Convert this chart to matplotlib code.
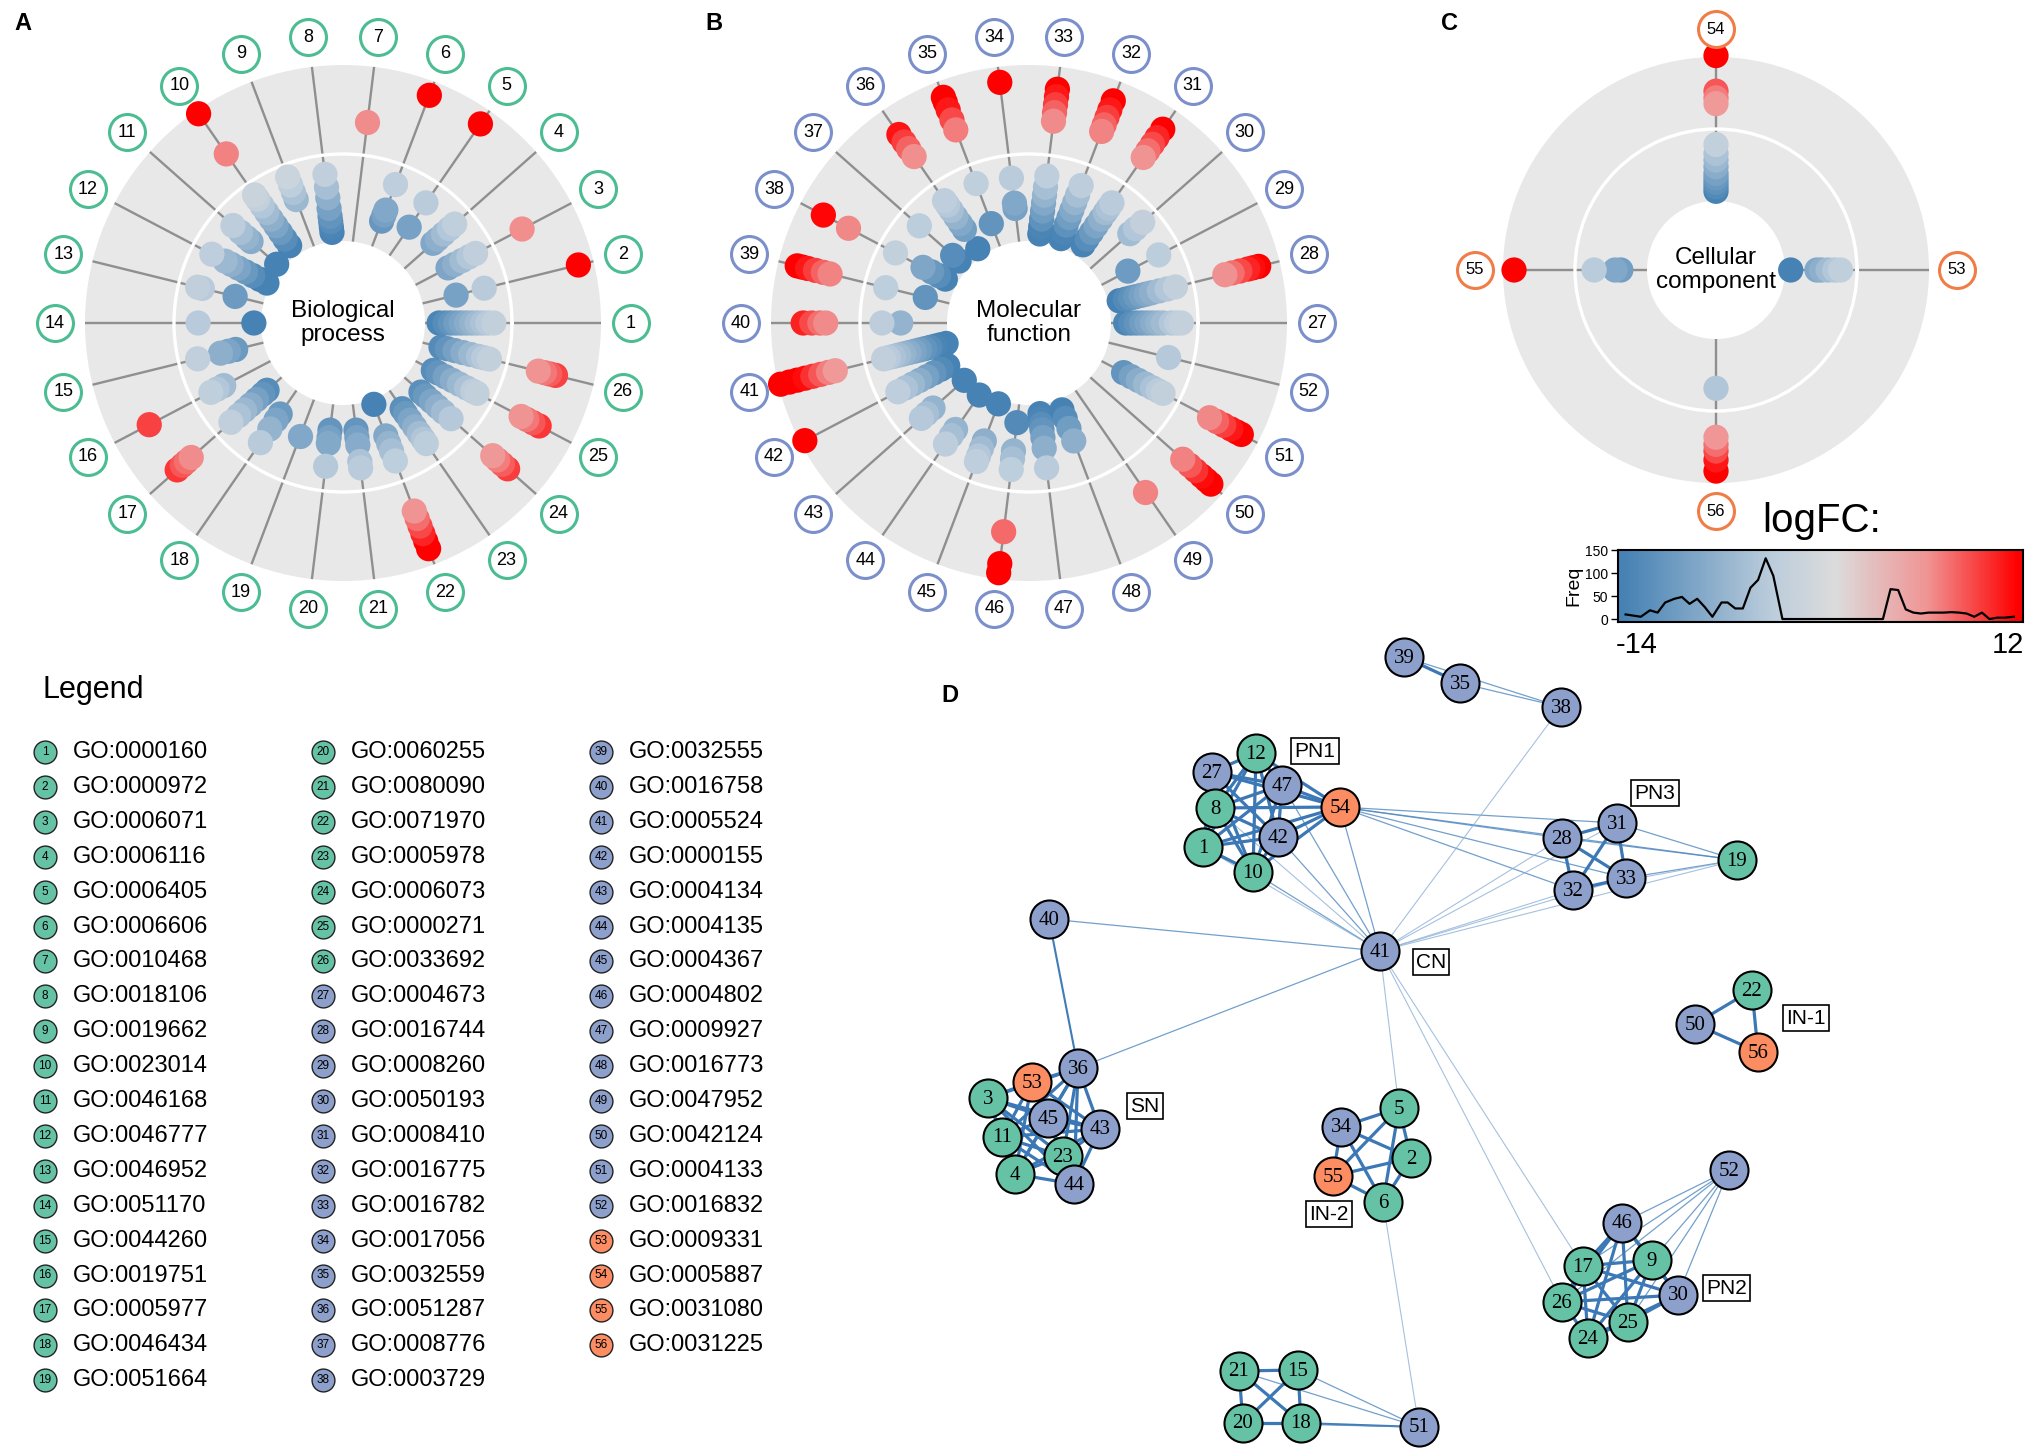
import numpy as np
import matplotlib.pyplot as plt
from matplotlib.colors import LinearSegmentedColormap, TwoSlopeNorm
from itertools import combinations

W, H = 2033, 1450
plt.rcParams['font.family'] = ['Liberation Sans', 'DejaVu Sans']

# logFC of the genes in each GO term, read off the circles
# panel A: terms 1-26 (biological process)
bp_logfc = [
    [-13.6, -12.5, -11.5, -10.5, -9.5, -8.5, -7.5, -6.5, -5.5, -4.5, -3.4],
    [-9.8, -4.4, 13.7],
    [-9.4, -8.0, -6.5, -5.0, -3.6, 6.2],
    [-9.1, -8.0, -6.5, -5.0, -3.7],
    [-9.8, -4.3, 13.6],
    [-11.2, -10.0, -9.0, -3.9, 13.9],
    [6.3],
    [-14.5, -13.5, -12.5, -11.5, -10.0, -8.0, -6.0, -3.6],
    [-6.9, -5.5, -4.0, -2.4],
    [-14.0, -12.5, -11.0, -9.5, -8.0, -6.5, -5.0, -3.5, -2.5, 6.8, 15.9],
    [-15.0, -8.6, -7.5, -6.0, -4.1],
    [-15.5, -14.0, -12.5, -11.0, -9.5, -8.0, -6.7, -3.9],
    [-10.8, -4.5, -3.6],
    [-14.9, -4.5],
    [-10.9, -9.5, -8.0, -3.6],
    [-6.4, -5.0, -3.7, 9.3],
    [-12.6, -11.5, -10.0, -8.5, -7.0, -5.5, -3.6, 6.3, 7.5, 8.5, 9.8],
    [-10.9, -9.5, -7.5, -4.4],
    [-9.0],
    [-11.4, -10.0, -8.9, -4.6],
    [-11.4, -10.0, -8.6, -5.5, -4.3],
    [-15.3, -9.0, -7.5, -6.0, -4.0, 6.0, 7.5, 9.0, 10.5, 12.0, 13.5],
    [-12.1, -11.0, -9.5, -8.0, -6.5, -5.2, -4.2],
    [-12.1, -11.0, -9.5, -8.0, -6.5, -4.6, 5.8, 7.0, 8.2, 9.5],
    [-12.5, -11.5, -10.0, -8.5, -7.0, -5.5, -4.2, -3.3, 6.0, 7.2, 8.5, 9.8],
    [-12.7, -11.5, -10.0, -8.5, -7.0, -5.5, -4.5, -3.4, 6.0, 7.2, 8.2, 9.3],
]
# panel B: terms 27-52 (molecular function)
mf_logfc = [
    [-13.5, -12.5, -11.5, -10.5, -9.5, -8.5, -7.5, -6.5, -5.0, -4.0, -3.1],
    [-14.2, -13.0, -12.0, -11.0, -10.0, -9.0, -8.0, -6.5, -5.0, -3.4, 6.1, 7.5, 9.0, 10.5, 11.5, 12.6],
    [-10.7, -4.2],
    [-6.4, -5.0, -3.2],
    [-13.8, -12.5, -11.0, -9.5, -8.0, -6.5, -5.5, -4.3, 6.0, 7.5, 9.0, 10.5, 12.4],
    [-14.7, -13.5, -12.0, -10.5, -9.0, -7.5, -6.0, -4.1, 6.7, 8.0, 9.5, 11.0, 12.8],
    [-14.8, -13.5, -12.0, -10.5, -9.0, -7.5, -6.0, -3.9, 6.4, 8.0, 9.5, 11.0, 12.4],
    [-10.0, -9.0, -4.3, 13.7],
    [-11.7, -3.7, 7.0, 9.0, 11.0, 12.5, 13.5],
    [-14.7, -10.3, -9.0, -7.5, -6.0, -4.8, -3.8, 6.2, 8.0, 9.5, 11.2],
    [-14.1, -12.5, -4.2],
    [-13.9, -12.5, -11.0, -9.2, -3.4, 6.5, 11.8],
    [-11.6, -4.0, 6.7, 8.0, 9.5, 11.0, 12.0, 13.0],
    [-7.6, -4.1, 6.4, 7.5, 9.0, 10.6],
    [-15.6, -14.5, -13.5, -12.5, -11.5, -10.5, -9.5, -8.5, -7.5, -6.5, -5.5, -4.5, -3.6,
     5.7, 7.0, 8.5, 10.0, 11.5, 13.0, 14.5, 16.2],
    [-14.4, -13.0, -11.5, -10.0, -8.5, -7.0, -5.5, -3.9, 15.7],
    [-15.4, -7.6, -6.0, -4.7],
    [-15.2, -7.4, -6.0, -4.1],
    [-15.4, -8.0, -6.5, -5.0, -3.9],
    [-12.8, -7.5, -6.0, -4.0, 7.7, 13.7, 15.4],
    [-14.5, -13.5, -12.5, -11.5, -10.0, -8.0, -4.3],
    [-14.2, -12.5, -10.5, -8.0],
    [6.7],
    [6.8, 8.5, 10.0, 11.5, 12.7, 13.8],
    [-11.6, -10.0, -8.5, -7.0, -5.5, -4.3, -3.3, 6.5, 8.0, 9.5, 11.0, 12.2, 13.2],
    [-4.8],
]
# panel C: terms 53-56 (cellular component)
cc_logfc = [
    [-14.9, -9.0, -8.0, -6.5, -5.0, -3.7],
    [-14.0, -13.0, -12.0, -11.0, -10.0, -8.5, -7.0, -5.5, -3.5, 5.7, 7.0, 8.5, 16.5],
    [-10.3, -9.0, -4.3, 13.7],
    [-5.1, 5.9, 7.5, 9.0, 11.0, 13.5],
]

go_ids = [
    'GO:0000160', 'GO:0000972', 'GO:0006071', 'GO:0006116', 'GO:0006405', 'GO:0006606',
    'GO:0010468', 'GO:0018106', 'GO:0019662', 'GO:0023014', 'GO:0046168', 'GO:0046777',
    'GO:0046952', 'GO:0051170', 'GO:0044260', 'GO:0019751', 'GO:0005977', 'GO:0046434',
    'GO:0051664', 'GO:0060255', 'GO:0080090', 'GO:0071970', 'GO:0005978', 'GO:0006073',
    'GO:0000271', 'GO:0033692', 'GO:0004673', 'GO:0016744', 'GO:0008260', 'GO:0050193',
    'GO:0008410', 'GO:0016775', 'GO:0016782', 'GO:0017056', 'GO:0032559', 'GO:0051287',
    'GO:0008776', 'GO:0003729', 'GO:0032555', 'GO:0016758', 'GO:0005524', 'GO:0000155',
    'GO:0004134', 'GO:0004135', 'GO:0004367', 'GO:0004802', 'GO:0009927', 'GO:0016773',
    'GO:0047952', 'GO:0042124', 'GO:0004133', 'GO:0016832', 'GO:0009331', 'GO:0005887',
    'GO:0031080', 'GO:0031225',
]
term_class = ['BP'] * 26 + ['MF'] * 26 + ['CC'] * 4

# logFC distribution shown under the colour bar
hist_logfc = [-13.8, -12.8, -12.2, -11.7, -11.2, -10.6, -10.1, -9.6, -9.1, -8.6, -8.1, -7.5,
              -7.1, -6.6, -6.1, -5.6, -5.1, -4.6, -4.1, -3.5, 3.1, 3.6, 4.1, 4.6, 5.1, 5.6,
              6.1, 6.6, 7.1, 7.6, 8.1, 8.6, 9.1, 9.6, 10.1, 10.6, 11.1, 11.7]
hist_freq = [10, 5, 19, 14, 36, 44, 48, 33, 44, 26, 5, 36, 36, 23, 23, 68, 85, 132, 94, 0,
             0, 65, 63, 21, 14, 12, 14, 14, 14, 15, 14, 12, 5, 14, 0, 3, 3, 5]
logfc_range = [-14, 12]

# network layout (D)
node_xy = {
    12: (1256, 753), 27: (1212, 772), 47: (1282, 785), 8: (1215, 808), 54: (1340, 807),
    42: (1278, 837), 1: (1203, 847), 10: (1253, 872), 40: (1049, 919), 41: (1380, 951),
    39: (1404, 657), 35: (1460, 683), 38: (1561, 707), 28: (1562, 838), 31: (1617, 823),
    19: (1737, 860), 33: (1626, 878), 32: (1573, 890), 22: (1752, 990), 50: (1695, 1024),
    56: (1758, 1052), 36: (1078, 1068), 53: (1032, 1082), 3: (988, 1098), 45: (1048, 1118),
    43: (1100, 1129), 11: (1002, 1137), 23: (1063, 1156), 4: (1015, 1174), 44: (1074, 1184),
    5: (1399, 1108), 34: (1341, 1127), 2: (1411, 1158), 55: (1333, 1176), 6: (1383, 1202),
    52: (1729, 1170), 46: (1622, 1223), 17: (1583, 1266), 9: (1652, 1260), 30: (1678, 1295),
    26: (1562, 1302), 25: (1628, 1322), 24: (1588, 1338), 21: (1239, 1371), 15: (1298, 1370),
    20: (1243, 1423), 18: (1301, 1423), 51: (1419, 1427),
}
clusters = {
    'PN1': [12, 27, 47, 8, 54, 42, 1, 10],
    'PN3': [28, 31, 33, 32],
    'SN': [3, 53, 36, 45, 43, 11, 23, 4, 44],
    'IN-2': [5, 34, 2, 55, 6],
    'IN-1': [22, 50, 56],
    'PN2': [46, 17, 9, 30, 26, 25, 24],
    'bottom': [21, 15, 20, 18],
}
cross_edges = [
    (39, 35, 'strong'), (39, 38, 'weak'), (35, 38, 'weak'),
    (54, 28, 'weak'), (54, 31, 'weak'), (54, 33, 'weak'), (54, 32, 'weak'), (54, 19, 'weak'),
    (41, 54, 'weak'), (41, 47, 'weak'), (41, 42, 'weak'), (41, 10, 'weak'), (41, 1, 'faint'),
    (41, 8, 'faint'), (41, 38, 'faint'), (41, 28, 'faint'), (41, 32, 'faint'), (41, 33, 'faint'),
    (41, 19, 'faint'), (41, 31, 'faint'), (41, 40, 'weak'), (41, 36, 'weak'), (40, 36, 'mid'),
    (41, 5, 'faint'), (6, 51, 'faint'), (41, 17, 'faint'), (41, 26, 'faint'),
    (19, 31, 'weak'), (19, 28, 'weak'), (19, 33, 'weak'), (19, 32, 'faint'),
    (52, 46, 'weak'), (52, 17, 'weak'), (52, 9, 'weak'), (52, 30, 'weak'), (52, 26, 'weak'),
    (52, 25, 'weak'),
    (51, 21, 'weak'), (51, 15, 'weak'), (51, 18, 'mid'), (51, 20, 'weak'),
]
cluster_tags = {
    'PN1': (1315, 751), 'PN3': (1655, 793), 'CN': (1431, 962), 'IN-1': (1806, 1018),
    'SN': (1145, 1106), 'IN-2': (1329, 1214), 'PN2': (1727, 1288),
}

class_fill = {'BP': '#66c2a5', 'MF': '#8da0cb', 'CC': '#fc8d62'}
class_ring = {'BP': '#4cbc92', 'MF': '#7b8fcb', 'CC': '#f07d48'}
edge_style = {
    'strong': dict(lw=2.3, color='#3b78b5', alpha=1.0),
    'mid': dict(lw=1.5, color='#3f7cb8', alpha=1.0),
    'weak': dict(lw=0.9, color='#4f88c0', alpha=0.8),
    'faint': dict(lw=0.8, color='#8fb2d6', alpha=0.8),
}

cmap = LinearSegmentedColormap.from_list(
    'logfc', [(0, '#4682b4'), (0.35, '#bccddc'), (0.5, '#dcdcdc'),
              (0.75, '#f09595'), (1, '#ff0000')])
norm = TwoSlopeNorm(vmin=-14, vcenter=0, vmax=12)


def px_box(x0, y0, w, h):
    return [x0 / W, 1 - (y0 + h) / H, w / W, h / H]


fig = plt.figure(figsize=(W / 100, H / 100), dpi=100)

# canvas in pixel units for legend, letters and network
cv = fig.add_axes([0, 0, 1, 1])
cv.set_xlim(0, W)
cv.set_ylim(H, 0)
cv.axis('off')


def go_circle(values, first_id, center, R, z, h, k, label_r, name, ring, lab_fs):
    cx, cy = center
    ax = fig.add_axes(px_box(cx - R, cy - R, 2 * R, 2 * R), projection='polar')
    ax.set_facecolor('#e8e8e8')
    ax.set_rorigin(-z / k)
    ax.set_ylim(-(z - h) / k, (R - z) / k)
    n = len(values)
    theta = np.arange(n) * 2 * np.pi / n
    ax.set_xticks(theta)
    ax.set_xticklabels([])
    ax.set_yticks([0])
    ax.set_yticklabels([])
    ax.xaxis.grid(True, color='#8f8f8f', lw=1.7)
    ax.yaxis.grid(True, color='white', lw=2.4)
    ax.tick_params(length=0)
    for s in ax.spines.values():
        s.set_linewidth(0)
        s.set_edgecolor('none')
    for i, vals in enumerate(values):
        v = np.array(sorted(vals, key=abs, reverse=True))
        ax.scatter(np.full(len(v), theta[i]), v, c=v, cmap=cmap, norm=norm, s=330,
                   lw=0, zorder=3, clip_on=False)
    lab_v = (label_r - z) / k
    ax.scatter(theta, np.full(n, lab_v), s=670, facecolor='white', edgecolor=ring,
               lw=2.2, zorder=4, clip_on=False)
    for i in range(n):
        ax.text(theta[i], lab_v, str(first_id + i), ha='center', va='center',
                fontsize=lab_fs, zorder=5, clip_on=False)
    ax.text(0.5, 0.5, name, transform=ax.transAxes, ha='center', va='center',
            fontsize=17.5, linespacing=1.15)
    return ax


go_circle(bp_logfc, 1, (343, 323), 258, 169, 82, 5.36, 288,
          'Biological\nprocess', class_ring['BP'], 13)
go_circle(mf_logfc, 27, (1029, 323), 258, 169, 82, 5.36, 288,
          'Molecular\nfunction', class_ring['MF'], 13)
go_circle(cc_logfc, 53, (1716, 270), 213, 141, 69, 4.45, 241,
          'Cellular\ncomponent', class_ring['CC'], 12)

# colour bar with logFC histogram
cax = fig.add_axes(px_box(1618, 550, 405, 72))
xl = (-14.3, 12.3)
grad = np.linspace(xl[0], xl[1], 500)
cax.imshow(grad[None, :], aspect='auto', cmap=cmap, norm=norm,
           extent=[xl[0], xl[1], -6.4, 150])
cax.plot(hist_logfc, hist_freq, color='black', lw=1.6)
cax.set_xlim(*xl)
cax.set_ylim(-6.4, 150)
cax.set_yticks([0, 50, 100, 150])
cax.tick_params(axis='y', labelsize=10, length=5, width=1, pad=2)
cax.set_xticks([])
cax.set_ylabel('Freq', fontsize=14, labelpad=2)
for s in cax.spines.values():
    s.set_linewidth(1.5)
cv.text(1637, 645, str(logfc_range[0]), fontsize=21, ha='center', va='center')
cv.text(2008, 645, str(logfc_range[1]), fontsize=21, ha='center', va='center')
cv.text(1822, 521, 'logFC:', fontsize=29, ha='center', va='center')

# panel letters
for letter, (x, y) in {'A': (23, 23), 'B': (714, 23), 'C': (1450, 23), 'D': (950, 695)}.items():
    cv.text(x, y, letter, fontsize=17, fontweight='bold', ha='center', va='center')

# legend
cv.text(43, 690, 'Legend', fontsize=22, ha='left', va='center')
for i, (gid, cls) in enumerate(zip(go_ids, term_class)):
    col, row = divmod(i, 19)
    x = 45 + col * 278
    y = 752 + row * 34.9
    cv.scatter(x, y, s=270, facecolor=class_fill[cls], edgecolor='#222222', lw=1.0, zorder=3)
    cv.text(x, y, str(i + 1), fontsize=8.5, ha='center', va='center', zorder=4)
    cv.text(x + 28, y, gid, fontsize=17, ha='left', va='center')

# network edges
for members in clusters.values():
    for a, b in combinations(members, 2):
        (x1, y1), (x2, y2) = node_xy[a], node_xy[b]
        cv.plot([x1, x2], [y1, y2], zorder=2, solid_capstyle='round', **edge_style['strong'])
for a, b, kind in cross_edges:
    (x1, y1), (x2, y2) = node_xy[a], node_xy[b]
    cv.plot([x1, x2], [y1, y2], zorder=1.5, **edge_style[kind])

# network nodes
for node, (x, y) in node_xy.items():
    cls = term_class[node - 1]
    cv.scatter(x, y, s=750, facecolor=class_fill[cls], edgecolor='black', lw=1.5, zorder=3)
    cv.text(x, y + 1, str(node), fontsize=15, ha='center', va='center', zorder=4,
            family=['Liberation Serif', 'DejaVu Serif'])

for tag, (x, y) in cluster_tags.items():
    cv.text(x, y, tag, fontsize=15, ha='center', va='center', zorder=4,
            bbox=dict(boxstyle='square,pad=0.15', facecolor='white', edgecolor='black', lw=1.2))

fig.savefig('out.png', dpi=100, facecolor='white')
